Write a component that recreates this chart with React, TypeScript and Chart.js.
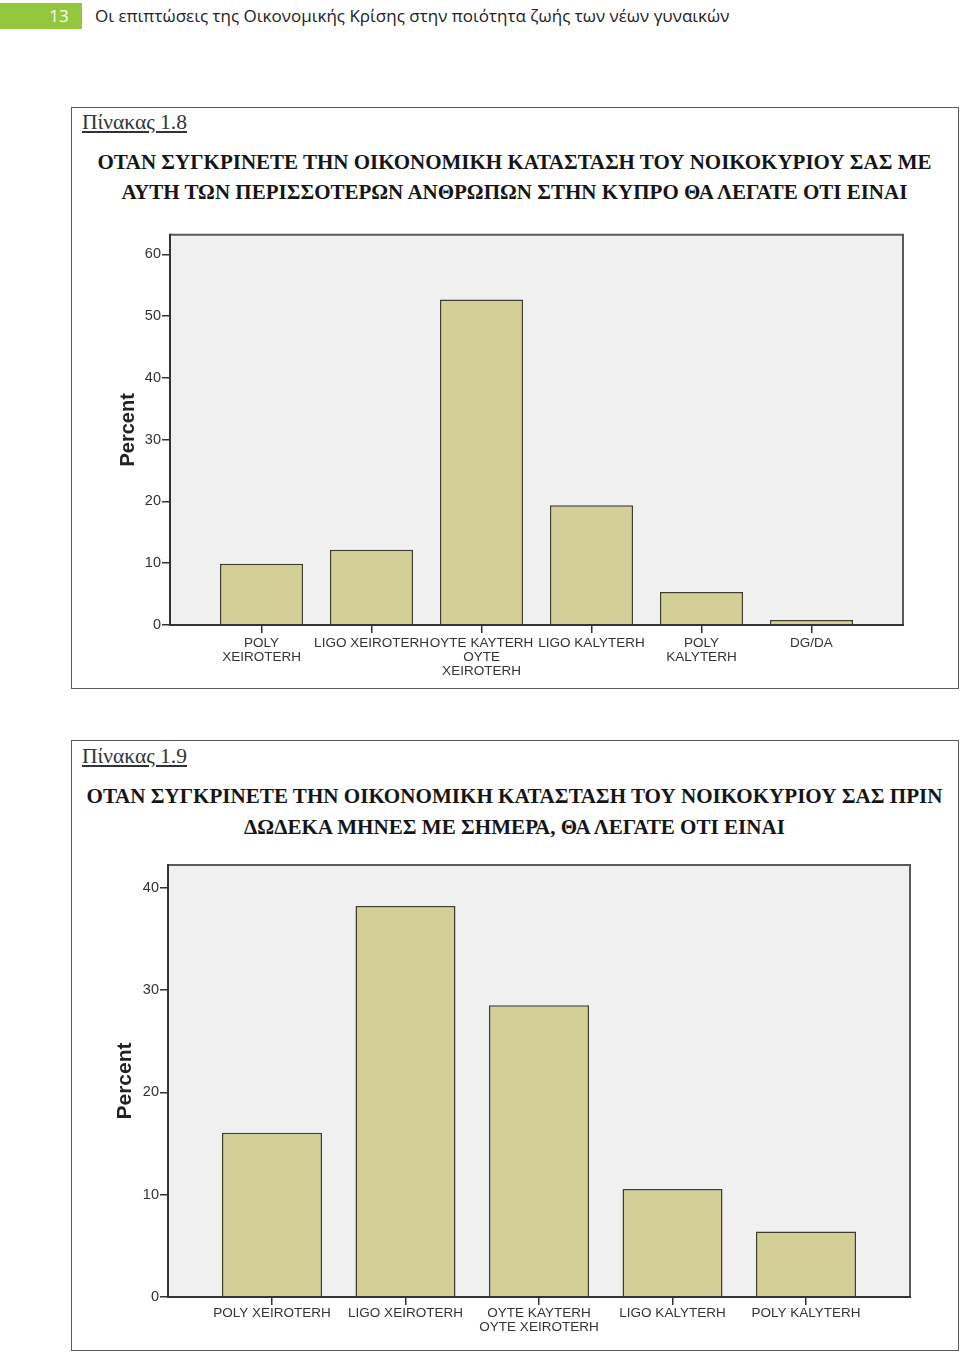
import React, { useEffect, useRef } from "react";
import { Chart, registerables } from "chart.js";
Chart.register(...registerables);

// ---------- DATA ----------
const headerNumber = "13";
const headerText = "Οι επιπτώσεις της Οικονομικής Κρίσης στην ποιότητα ζωής των νέων γυναικών";

const caption18 = "Πίνακας 1.8";
const title18 = [
  "ΟΤΑΝ ΣΥΓΚΡΙΝΕΤΕ ΤΗΝ ΟΙΚΟΝΟΜΙΚΗ ΚΑΤΑΣΤΑΣΗ ΤΟΥ ΝΟΙΚΟΚΥΡΙΟΥ ΣΑΣ ΜΕ",
  "ΑΥΤΗ ΤΩΝ ΠΕΡΙΣΣΟΤΕΡΩΝ ΑΝΘΡΩΠΩΝ ΣΤΗΝ ΚΥΠΡΟ ΘΑ ΛΕΓΑΤΕ ΟΤΙ ΕΙΝΑΙ",
];
const categories18: (string | string[])[] = [
  ["POLY", "XEIROTERH"],
  "LIGO XEIROTERH",
  ["OYTE KAYTERH", "OYTE", "XEIROTERH"],
  "LIGO KALYTERH",
  ["POLY", "KALYTERH"],
  "DG/DA",
];
const percent18 = [9.9, 12.2, 52.7, 19.4, 5.35, 0.8];
const yTicks18 = [0, 10, 20, 30, 40, 50, 60];
const yMax18 = 63.2;

const caption19 = "Πίνακας 1.9";
const title19 = [
  "ΟΤΑΝ ΣΥΓΚΡΙΝΕΤΕ ΤΗΝ ΟΙΚΟΝΟΜΙΚΗ ΚΑΤΑΣΤΑΣΗ ΤΟΥ ΝΟΙΚΟΚΥΡΙΟΥ ΣΑΣ ΠΡΙΝ",
  "ΔΩΔΕΚΑ ΜΗΝΕΣ ΜΕ ΣΗΜΕΡΑ, ΘΑ ΛΕΓΑΤΕ ΟΤΙ ΕΙΝΑΙ",
];
const categories19: (string | string[])[] = [
  "POLY XEIROTERH",
  "LIGO XEIROTERH",
  ["OYTE KAYTERH", "OYTE XEIROTERH"],
  "LIGO KALYTERH",
  "POLY KALYTERH",
];
const percent19 = [16.05, 38.2, 28.5, 10.55, 6.4];
const yTicks19 = [0, 10, 20, 30, 40];
const yMax19 = 42.2;

const yAxisTitle = "Percent";

// ---------- HELPERS ----------
let measureCtx: CanvasRenderingContext2D | null = null;
function measure(text: string, font: string): number {
  if (!measureCtx) measureCtx = document.createElement("canvas").getContext("2d");
  measureCtx!.font = font;
  return measureCtx!.measureText(text).width;
}
function fitSize(text: string, family: string, weight: string, target: number): number {
  const base = 20;
  const w = measure(text, `${weight} ${base}px ${family}`);
  return (base * target) / w;
}

const frame = {
  id: "spssFrame",
  beforeDraw(chart: any) {
    const { ctx, chartArea: a } = chart;
    ctx.save();
    ctx.fillStyle = "#f0f0f0";
    ctx.fillRect(a.left, a.top, a.right - a.left, a.bottom - a.top);
    ctx.restore();
  },
  afterDraw(chart: any) {
    const { ctx, chartArea: a } = chart;
    ctx.save();
    ctx.lineWidth = 2;
    ctx.strokeStyle = "#5a5a5a";
    ctx.beginPath();
    ctx.moveTo(a.left, a.top);
    ctx.lineTo(a.right, a.top);
    ctx.lineTo(a.right, a.bottom);
    ctx.stroke();
    ctx.strokeStyle = "#333333";
    ctx.beginPath();
    ctx.moveTo(a.left, a.top - 1);
    ctx.lineTo(a.left, a.bottom);
    ctx.lineTo(a.right + 1, a.bottom);
    ctx.stroke();
    ctx.restore();
  },
};

type BarProps = {
  labels: (string | string[])[];
  values: number[];
  yTicks: number[];
  yMax: number;
  left: number;
  top: number;
  width: number;
  height: number;
  padTop: number;
  padRight: number;
  yWidth: number;
  xHeight: number;
  titlePad: number;
  titleSize: number;
  barPct: number;
  edge: number;
  xPad: number;
};

function BarChart(p: BarProps) {
  const ref = useRef<HTMLCanvasElement>(null);
  useEffect(() => {
    if (!ref.current) return;
    const family = "'Liberation Sans', Arial, sans-serif";
    const n = p.labels.length;
    const chart = new Chart(ref.current, {
      type: "bar",
      data: {
        datasets: [
          {
            data: p.values.map((v, i) => ({ x: i, y: v })),
            backgroundColor: "#d3cf97",
            borderColor: "#3e3e30",
            borderWidth: 1.5,
            barPercentage: p.barPct,
            categoryPercentage: 1,
          },
        ],
      },
      options: {
        responsive: false,
        animation: false,
        devicePixelRatio: 1,
        layout: { padding: { top: p.padTop, right: p.padRight, left: 0, bottom: 0 } },
        plugins: { legend: { display: false }, tooltip: { enabled: false } },
        scales: {
          x: {
            type: "linear",
            min: -p.edge,
            max: n - 1 + p.edge,
            offset: false,
            grid: {
              offset: false,
              drawOnChartArea: false,
              drawTicks: true,
              tickLength: 8,
              color: "#333",
              lineWidth: 1.5,
            },
            border: { display: false },
            afterBuildTicks: (s: any) => {
              s.ticks = p.labels.map((_, i) => ({ value: i }));
            },
            ticks: {
              autoSkip: false,
              maxRotation: 0,
              minRotation: 0,
              padding: p.xPad,
              color: "#333",
              font: { family, size: 13.5, lineHeight: 1.06 },
              callback: (v: any) => p.labels[Math.round(Number(v))] as any,
            },
            afterFit: (s: any) => {
              s.height = p.xHeight;
            },
          },
          y: {
            min: 0,
            max: p.yMax,
            grid: {
              drawOnChartArea: false,
              drawTicks: true,
              tickLength: 8,
              color: "#333",
              lineWidth: 1.5,
            },
            border: { display: false },
            ticks: { padding: 1, color: "#333", font: { family, size: 14.5 } },
            afterBuildTicks: (s: any) => {
              s.ticks = p.yTicks.map((v) => ({ value: v }));
            },
            afterFit: (s: any) => {
              s.width = p.yWidth;
            },
            title: {
              display: true,
              text: yAxisTitle,
              color: "#222",
              padding: { top: p.titlePad, bottom: 0 },
              font: { family, size: p.titleSize, weight: "bold" },
            },
          },
        },
      },
      plugins: [frame],
    } as any);
    return () => chart.destroy();
  }, []);
  return (
    <canvas
      ref={ref}
      width={p.width}
      height={p.height}
      style={{ position: "absolute", left: p.left, top: p.top, width: p.width, height: p.height }}
    />
  );
}

const serif = "'Liberation Serif', 'Times New Roman', serif";
const sans = "'Open Sans', 'Noto Sans', sans-serif";

function Caption({ text, top }: { text: string; top: number }) {
  const size = fitSize(text, serif, "normal", 105);
  return (
    <div
      style={{
        position: "absolute",
        left: 82,
        top: top - size * 0.6,
        fontFamily: serif,
        fontSize: size,
        lineHeight: 1.2,
        color: "#333",
        textDecoration: "underline",
        whiteSpace: "nowrap",
      }}
    >
      {text}
    </div>
  );
}

function Title({ lines, centers, width }: { lines: string[]; centers: number[]; width: number }) {
  const size = fitSize(lines[0], serif, "bold", width);
  return (
    <>
      {lines.map((l, i) => (
        <div
          key={i}
          style={{
            position: "absolute",
            left: 71,
            width: 887,
            top: centers[i] - size * 0.6,
            textAlign: "center",
            fontFamily: serif,
            fontWeight: "bold",
            fontSize: size,
            lineHeight: 1.2,
            color: "#151515",
            whiteSpace: "nowrap",
          }}
        >
          {l}
        </div>
      ))}
    </>
  );
}

export default function App() {
  const hSize = fitSize(headerText, sans, "normal", 635);
  return (
    <div
      style={{
        position: "absolute",
        left: 0,
        top: 0,
        width: 960,
        height: 1353,
        background: "#fff",
        overflow: "hidden",
      }}
    >
      <div
        style={{
          position: "absolute",
          left: 0,
          top: 3,
          width: 82,
          height: 26,
          background: "#93c83e",
        }}
      />
      <div
        style={{
          position: "absolute",
          left: 40,
          width: 38,
          top: 16 - hSize * 0.65,
          textAlign: "center",
          fontFamily: sans,
          fontSize: hSize,
          lineHeight: 1.3,
          color: "#fff",
        }}
      >
        {headerNumber}
      </div>
      <div
        style={{
          position: "absolute",
          left: 95,
          top: 16 - hSize * 0.65,
          fontFamily: sans,
          fontSize: hSize,
          lineHeight: 1.3,
          color: "#222",
          whiteSpace: "nowrap",
        }}
      >
        {headerText}
      </div>

      {/* Box 1.8 */}
      <div
        style={{
          position: "absolute",
          left: 71,
          top: 107,
          width: 886,
          height: 580,
          border: "1px solid #5a5a5a",
        }}
      />
      <Caption text={caption18} top={123} />
      <Title lines={title18} centers={[163, 193]} width={835} />
      <BarChart
        labels={categories18}
        values={percent18}
        yTicks={yTicks18}
        yMax={yMax18}
        left={100}
        top={225}
        width={830}
        height={465}
        padTop={9}
        padRight={27}
        yWidth={70}
        xHeight={65}
        titlePad={16}
        titleSize={20}
        barPct={0.755}
        edge={0.832}
        xPad={3}
      />

      {/* Box 1.9 */}
      <div
        style={{
          position: "absolute",
          left: 71,
          top: 740,
          width: 886,
          height: 609,
          border: "1px solid #5a5a5a",
        }}
      />
      <Caption text={caption19} top={757} />
      <Title lines={title19} centers={[797, 828]} width={857} />
      <BarChart
        labels={categories19}
        values={percent19}
        yTicks={yTicks19}
        yMax={yMax19}
        left={100}
        top={855}
        width={830}
        height={492}
        padTop={10}
        padRight={20}
        yWidth={68}
        xHeight={50}
        titlePad={13}
        titleSize={21}
        barPct={0.749}
        edge={0.779}
        xPad={1}
      />
    </div>
  );
}
